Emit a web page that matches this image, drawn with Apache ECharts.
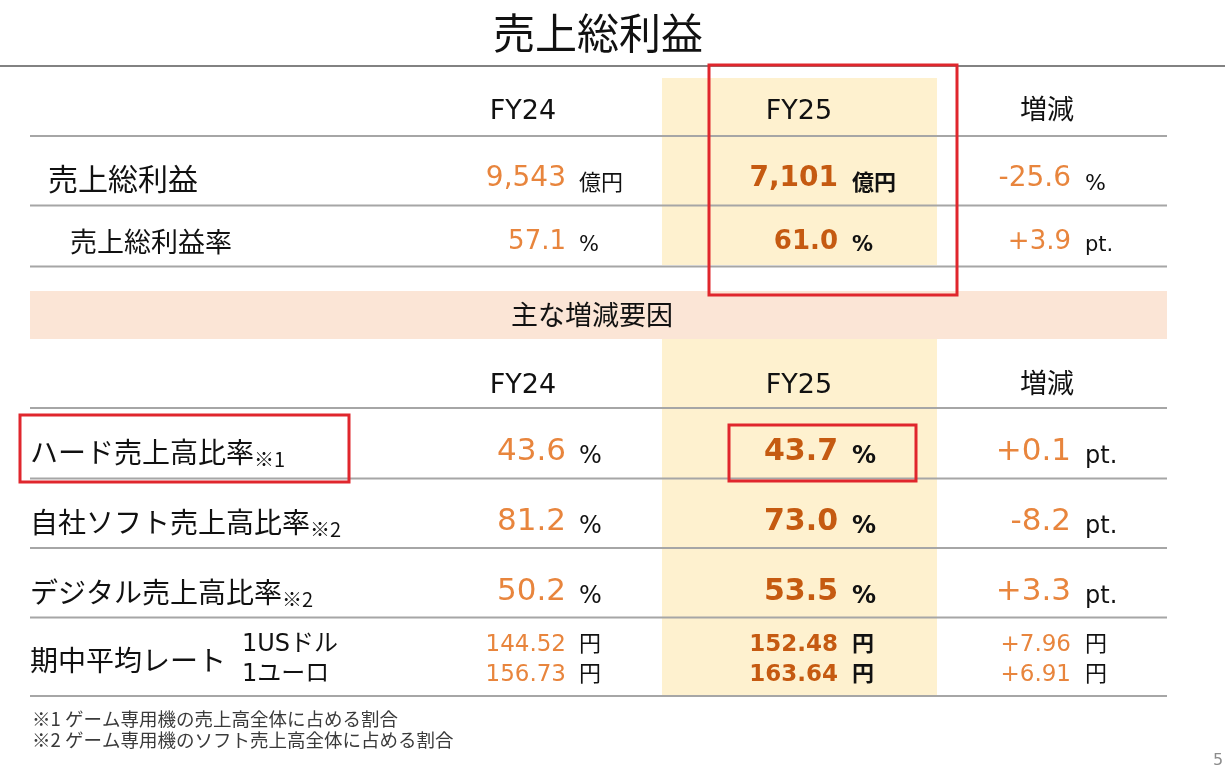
<!DOCTYPE html>
<html><head><meta charset="utf-8">
<script src="https://cdn.jsdelivr.net/npm/echarts@6/dist/echarts.min.js"></script>
<style>html,body{margin:0;padding:0;background:#fff}#c{width:1225px;height:783px}</style>
</head><body><div id="c"></div>
<script>
// ---------------- data ----------------
const slideTitle = '売上総利益';
const periods = ['FY24', 'FY25', '増減'];
const grossLabels = ['売上総利益', '売上総利益率'];
const grossFY24 = [9543, 57.1];
const grossFY25 = [7101, 61.0];
const grossDiff = [-25.6, 3.9];
const grossDecimals = [0, 1];
const grossUnits = ['億円', '%'];
const grossDiffUnits = ['%', 'pt.'];
const factorHeading = '主な増減要因';
const factorLabels = ['ハード売上高比率', '自社ソフト売上高比率', 'デジタル売上高比率'];
const factorNotes = ['※1', '※2', '※2'];
const factorFY24 = [43.6, 81.2, 50.2];
const factorFY25 = [43.7, 73.0, 53.5];
const factorDiff = [0.1, -8.2, 3.3];
const factorUnit = '%';
const factorDiffUnit = 'pt.';
const rateLabel = '期中平均レート';
const currencies = ['1USドル', '1ユーロ'];
const rateFY24 = [144.52, 156.73];
const rateFY25 = [152.48, 163.64];
const rateDiff = [7.96, 6.91];
const rateUnit = '円';
const footnotes = ['※1 ゲーム専用機の売上高全体に占める割合', '※2 ゲーム専用機のソフト売上高全体に占める割合'];
const pageNo = '5';

// ---------------- layout & style ----------------
const LAY = {
  W: 1225, H: 783,
  titleX: 598, titleY: 33, titleLineY: 66,
  tableX: [30, 1167],
  numRight: [566, 838, 1071],
  unitLeft: [579, 852, 1085],
  headX: [523, 799, 1047],
  hlX: [662, 937],
  t1: { hlTop: 78, hlBottom: 265, lines: [136, 205.5, 266.5], headY: 112, rowY: [179, 242],
        labelX: [48, 70], labelSize: [30, 27], numSize: [28, 26], unitSize: [22, 21], unitDy: [5, 4] },
  band: { top: 291, bottom: 339, textX: 592, textY: 315 },
  t2: { hlTop: 339, hlBottom: 695, lines: [408, 478.5, 548, 617.5, 696], headY: 386,
        rowY: [452, 522, 592], labelX: 30, labelSize: 28, noteSize: 20, numSize: 31, boldSize: 30, unitSize: 24, unitDy: 5 },
  rates: { rowY: [645, 675], labelY: 660, labelX: 30, curX: 242, curSize: 24, numSize: 23, unitSize: 22, unitDy: 0 },
  foot: { x: 32, y: [719, 740], size: 18.5 },
  page: { x: 1218, y: 761, size: 16 },
  boxes: [[709, 65, 957, 295], [20, 415, 349, 482], [729, 425, 916, 481]]
};
const COL = {
  text: '#111111', light: '#E8853D', dark: '#C55A11', hl: '#FEF1CF', band: '#FBE5D6',
  rule: '#A6A6A6', titleRule: '#595959', red: '#E0262D', foot: '#3A3A3A', page: '#8C8C8C'
};
const FONT = "'DejaVu Sans','Noto Sans CJK JP',sans-serif";
const JFONT = "'Noto Sans CJK JP',sans-serif";

function fmt(v, dec, signed) {
  const s = Math.abs(v).toLocaleString('en-US', { minimumFractionDigits: dec, maximumFractionDigits: dec });
  return (v < 0 ? '-' : (signed ? '+' : '')) + s;
}

function txt(P, x, y, text, o) {
  const p = P(x, y);
  return {
    type: 'text', x: p[0], y: p[1],
    style: Object.assign({
      text: text, fill: COL.text, fontFamily: FONT, fontSize: 20, fontWeight: 'normal',
      align: 'left', verticalAlign: 'middle'
    }, o || {})
  };
}
function valueCell(P, col, y, numStr, unit, numSize, unitSize, unitDy, bold) {
  return [
    txt(P, LAY.numRight[col], y, numStr, { align: 'right', fontSize: numSize,
      fill: bold ? COL.dark : COL.light, fontWeight: bold ? 'bold' : 'normal' }),
    txt(P, LAY.unitLeft[col], y + unitDy, unit, { fontSize: unitSize, fontWeight: bold ? 'bold' : 'normal' })
  ];
}
function rect(P, x1, y1, x2, y2, style) {
  const a = P(x1, y1), b = P(x2, y2);
  return { type: 'rect', shape: { x: a[0], y: a[1], width: b[0] - a[0], height: b[1] - a[1] }, style: style };
}
function hline(P, x1, x2, y, stroke, w) {
  const a = P(x1, y), b = P(x2, y);
  return { type: 'line', shape: { x1: a[0], y1: a[1], x2: b[0], y2: b[1] }, style: { stroke: stroke, lineWidth: w } };
}
const mkP = api => (x, y) => api.coord([x, y]);

// frame: highlight columns, band, rules
function renderFrame(params, api) {
  const P = mkP(api);
  const ch = [];
  ch.push(rect(P, LAY.hlX[0], LAY.t1.hlTop, LAY.hlX[1], LAY.t1.hlBottom, { fill: COL.hl }));
  ch.push(rect(P, LAY.hlX[0], LAY.t2.hlTop, LAY.hlX[1], LAY.t2.hlBottom, { fill: COL.hl }));
  ch.push(rect(P, LAY.tableX[0], LAY.band.top, LAY.tableX[1], LAY.band.bottom, { fill: COL.band }));
  ch.push(hline(P, 0, LAY.W, LAY.titleLineY, COL.titleRule, 1.5));
  LAY.t1.lines.concat(LAY.t2.lines).forEach(y => ch.push(hline(P, LAY.tableX[0], LAY.tableX[1], y, COL.rule, 2)));
  return { type: 'group', children: ch };
}
// titles, headers, notes
function renderHeads(params, api) {
  const P = mkP(api);
  const ch = [];
  ch.push(txt(P, LAY.titleX, LAY.titleY, slideTitle, { align: 'center', fontSize: 42, fontFamily: JFONT }));
  periods.forEach((h, i) => {
    ch.push(txt(P, LAY.headX[i], LAY.t1.headY, h, { align: 'center', fontSize: 27 }));
    ch.push(txt(P, LAY.headX[i], LAY.t2.headY, h, { align: 'center', fontSize: 27 }));
  });
  ch.push(txt(P, LAY.band.textX, LAY.band.textY, factorHeading, { align: 'center', fontSize: 27, fontFamily: JFONT }));
  footnotes.forEach((f, i) => ch.push(txt(P, LAY.foot.x, LAY.foot.y[i], f, { fontSize: LAY.foot.size, fill: COL.foot, fontFamily: JFONT })));
  ch.push(txt(P, LAY.page.x, LAY.page.y, pageNo, { align: 'center', fontSize: LAY.page.size, fill: COL.page }));
  return { type: 'group', children: ch };
}
function renderGross(params, api) {
  const P = mkP(api);
  const i = params.dataIndex, L = LAY.t1;
  const y = L.rowY[i], d = grossDecimals[i];
  const ch = [txt(P, L.labelX[i], y, grossLabels[i], { fontSize: L.labelSize[i], fontFamily: JFONT })];
  return { type: 'group', children: ch.concat(
    valueCell(P, 0, y, fmt(grossFY24[i], d), grossUnits[i], L.numSize[i], L.unitSize[i], L.unitDy[i], false),
    valueCell(P, 1, y, fmt(grossFY25[i], d), grossUnits[i], L.numSize[i], L.unitSize[i], L.unitDy[i], true),
    valueCell(P, 2, y, fmt(grossDiff[i], 1, true), grossDiffUnits[i], L.numSize[i], L.unitSize[i], L.unitDy[i], false)
  ) };
}
function renderFactor(params, api) {
  const P = mkP(api);
  const i = params.dataIndex, L = LAY.t2;
  const y = L.rowY[i];
  const label = txt(P, L.labelX, y, '{a|' + factorLabels[i] + '}{b|' + factorNotes[i] + '}', {
    fontFamily: JFONT,
    rich: {
      a: { fontSize: L.labelSize, fontFamily: JFONT, fill: COL.text, lineHeight: 34 },
      b: { fontSize: L.noteSize, fontFamily: JFONT, fill: COL.text, lineHeight: 23, verticalAlign: 'bottom' }
    }
  });
  return { type: 'group', children: [label].concat(
    valueCell(P, 0, y, fmt(factorFY24[i], 1), factorUnit, L.numSize, L.unitSize, L.unitDy, false),
    valueCell(P, 1, y, fmt(factorFY25[i], 1), factorUnit, L.boldSize, L.unitSize, L.unitDy, true),
    valueCell(P, 2, y, fmt(factorDiff[i], 1, true), factorDiffUnit, L.numSize, L.unitSize, L.unitDy, false)
  ) };
}
function renderRate(params, api) {
  const P = mkP(api);
  const i = params.dataIndex, L = LAY.rates;
  const y = L.rowY[i];
  const ch = [txt(P, L.curX, y, currencies[i], { fontSize: L.curSize, fontFamily: FONT })];
  if (i === 0) ch.push(txt(P, L.labelX, L.labelY, rateLabel, { fontSize: 28, fontFamily: JFONT }));
  return { type: 'group', children: ch.concat(
    valueCell(P, 0, y, fmt(rateFY24[i], 2), rateUnit, L.numSize, L.unitSize, L.unitDy, false),
    valueCell(P, 1, y, fmt(rateFY25[i], 2), rateUnit, L.numSize, L.unitSize, L.unitDy, true),
    valueCell(P, 2, y, fmt(rateDiff[i], 2, true), rateUnit, L.numSize, L.unitSize, L.unitDy, false)
  ) };
}
function renderBoxes(params, api) {
  const P = mkP(api);
  return { type: 'group', children: LAY.boxes.map(b => rect(P, b[0], b[1], b[2], b[3], { fill: 'none', stroke: COL.red, lineWidth: 3 })) };
}

const chart = echarts.init(document.getElementById('c'), null, { renderer: 'canvas' });
const base = { type: 'custom', coordinateSystem: 'cartesian2d', clip: false, silent: true };
chart.setOption({
  animation: false,
  backgroundColor: '#ffffff',
  grid: { left: 0, right: 0, top: 0, bottom: 0 },
  xAxis: { type: 'value', min: 0, max: LAY.W, show: false },
  yAxis: { type: 'value', min: 0, max: LAY.H, inverse: true, show: false },
  series: [
    Object.assign({}, base, { name: 'frame', z: 1, data: [[0, 0]], renderItem: renderFrame }),
    Object.assign({}, base, { name: 'heads', z: 3, data: [[0, 0]], renderItem: renderHeads }),
    Object.assign({}, base, { name: 'gross', z: 3, data: grossLabels.map((l, i) => [i, i]), renderItem: renderGross }),
    Object.assign({}, base, { name: 'factors', z: 3, data: factorLabels.map((l, i) => [i, i]), renderItem: renderFactor }),
    Object.assign({}, base, { name: 'rates', z: 3, data: currencies.map((c, i) => [i, i]), renderItem: renderRate }),
    Object.assign({}, base, { name: 'boxes', z: 5, data: [[0, 0]], renderItem: renderBoxes })
  ]
});
</script>
</body></html>
